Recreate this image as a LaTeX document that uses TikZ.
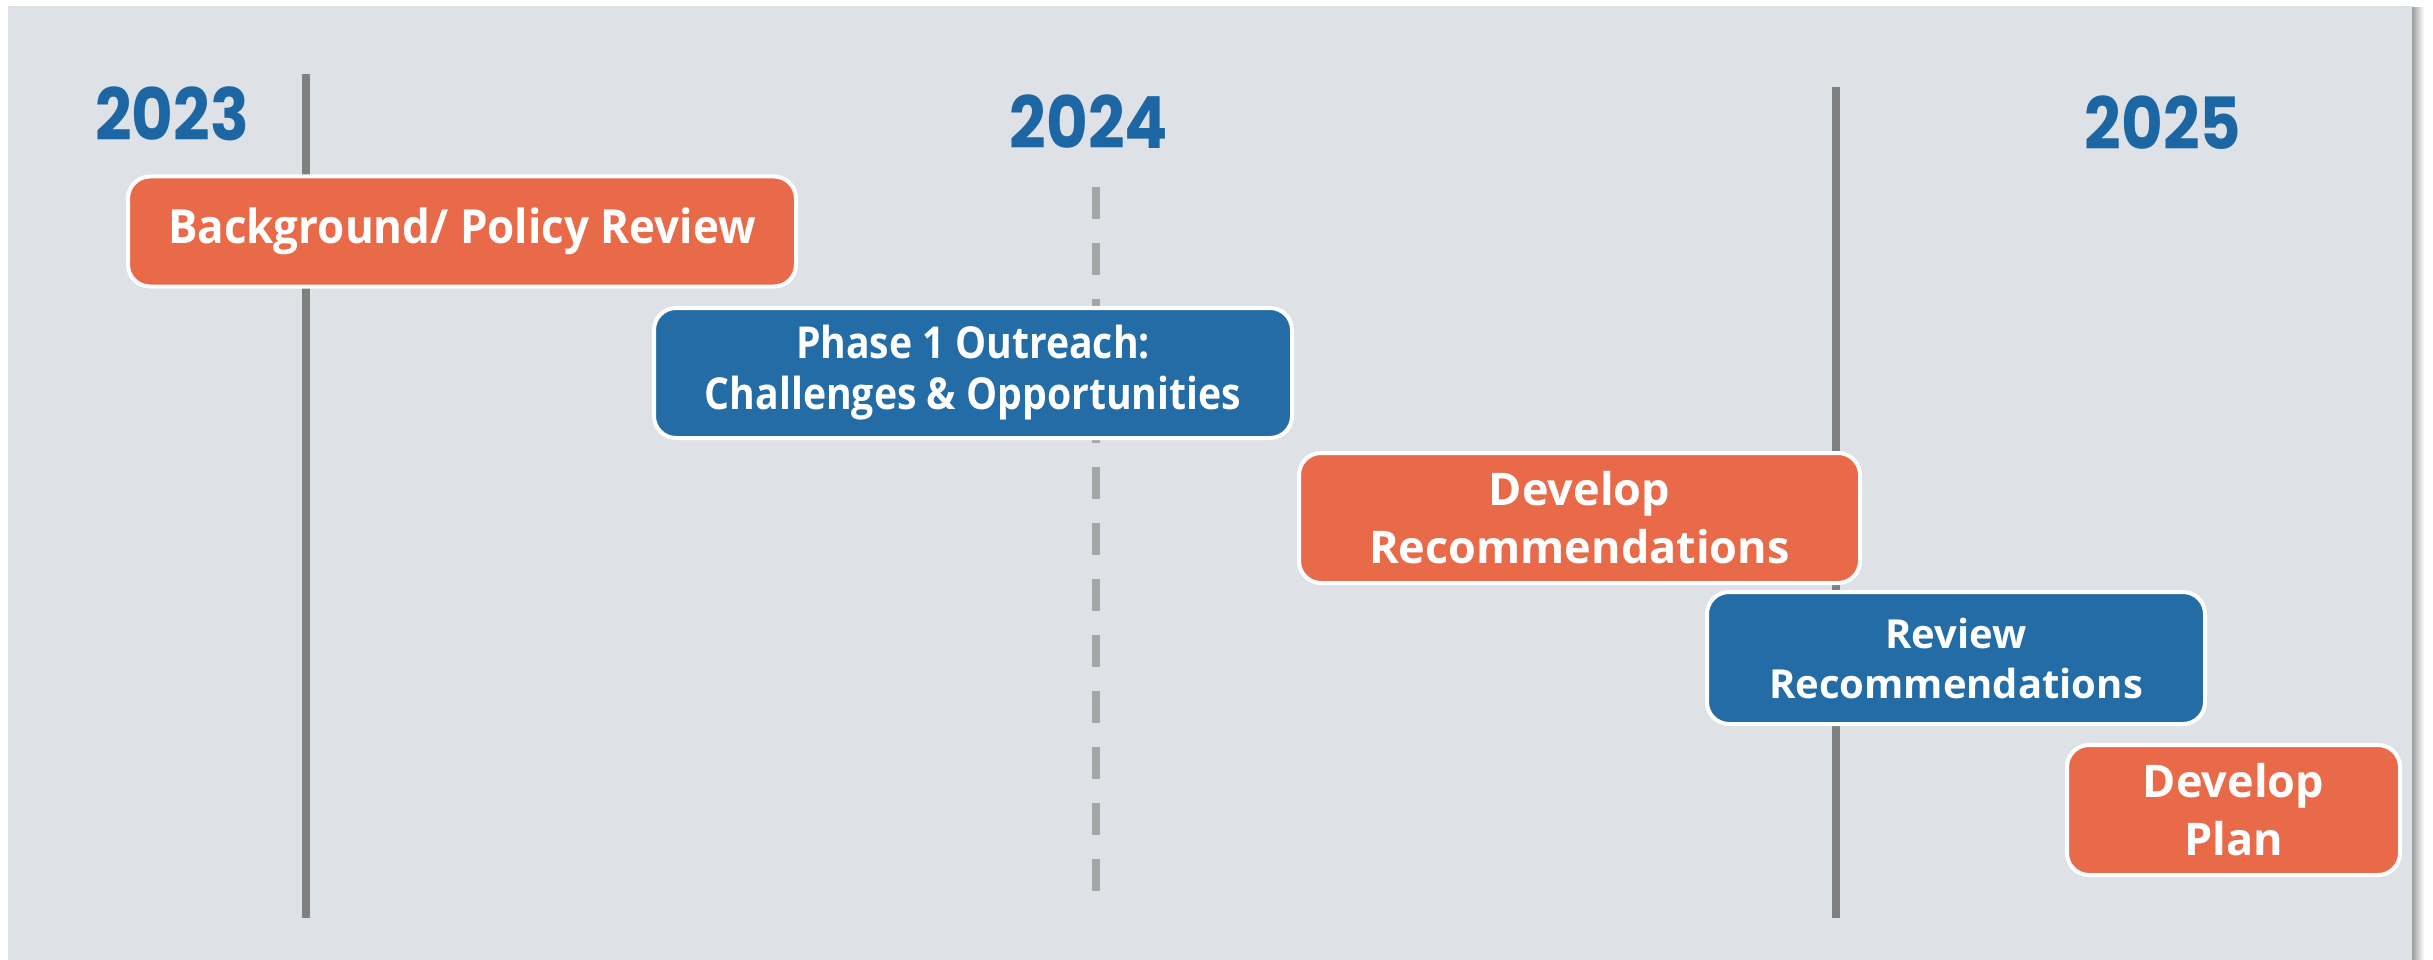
\documentclass[tikz,border=0pt]{standalone}
\usepackage{fontspec}
\setmainfont{Open Sans}
\newfontfamily\yearfont{Poppins}[FakeStretch=0.89]
\newfontfamily\condfont{Open Sans}[FakeStretch=0.935]
\newfontfamily\condfontb{Open Sans}[FakeStretch=0.89]
\usetikzlibrary{shadings}
\definecolor{panel}{HTML}{DEE2E6}
\definecolor{orangefill}{HTML}{E96A48}
\definecolor{bluefill}{HTML}{236CA6}
\definecolor{yearblue}{HTML}{1B66A3}
\definecolor{linegray}{HTML}{808080}
\definecolor{dashgray}{HTML}{A6A6A6}
\tikzset{
  yearlabel/.style={text=yearblue, inner sep=0pt, font=\yearfont\bfseries\fontsize{72}{72}\selectfont},
  solidline/.style={draw=linegray, line width=8pt},
  dashline/.style={draw=dashgray, line width=8pt, dash pattern=on 32pt off 24pt},
  phasebox/.style={rounded corners=22pt, draw=white, line width=4pt, text=white, align=center, inner sep=0pt},
  orangebox/.style={phasebox, fill=orangefill},
  bluebox/.style={phasebox, fill=bluefill},
  condtext/.style={font=\condfont\bfseries\fontsize{47}{51}\selectfont},
  condtextb/.style={font=\condfontb\bfseries\fontsize{44}{51}\selectfont},
  widetext/.style={font=\bfseries\fontsize{45}{58}\selectfont},
  smalltext/.style={font=\bfseries\fontsize{40}{50}\selectfont}
}
\begin{document}
\begin{tikzpicture}[x=1pt,y=-1pt]
\useasboundingbox (0,0) rectangle (2433,960);
\fill[white] (0,0) rectangle (2433,960);
\shade[left color=black!45, right color=white] (2410,8) rectangle (2424,960);
\fill[panel] (8,6) rectangle (2412,960);

% timeline markers
\coordinate (a1) at (306,74);
\coordinate (a2) at (306,918);
\coordinate (d1) at (1096,187);
\coordinate (d2) at (1096,891);
\coordinate (c1) at (1836,87);
\coordinate (c2) at (1836,918);
\draw[solidline] (a1) -- (a2);
\draw[dashline] (d1) -- (d2);
\draw[solidline] (c1) -- (c2);

% years
\node[yearlabel] (y23) at (172,114) {2023};
\node[yearlabel] (y24) at (1089,122) {2024};
\node[yearlabel] (y25) at (2163,123) {2025};

% phases
\node[orangebox, condtext, minimum width=668pt, minimum height=110pt] (b1) at (462,231.5) {Background/ Policy Review};
\node[bluebox, condtextb, minimum width=638pt, minimum height=130pt] (b2) at (973,373) {Phase 1 Outreach:\\Challenges \& Opportunities};
\node[orangebox, widetext, minimum width=561pt, minimum height=130pt] (b3) at (1579.5,518) {Develop\\Recommendations};
\node[bluebox, smalltext, minimum width=498pt, minimum height=132pt] (b4) at (1956,658) {Review\\Recommendations};
\node[orangebox, widetext, minimum width=333pt, minimum height=130pt] (b5) at (2233.5,810) {Develop\\Plan};
\end{tikzpicture}
\end{document}
